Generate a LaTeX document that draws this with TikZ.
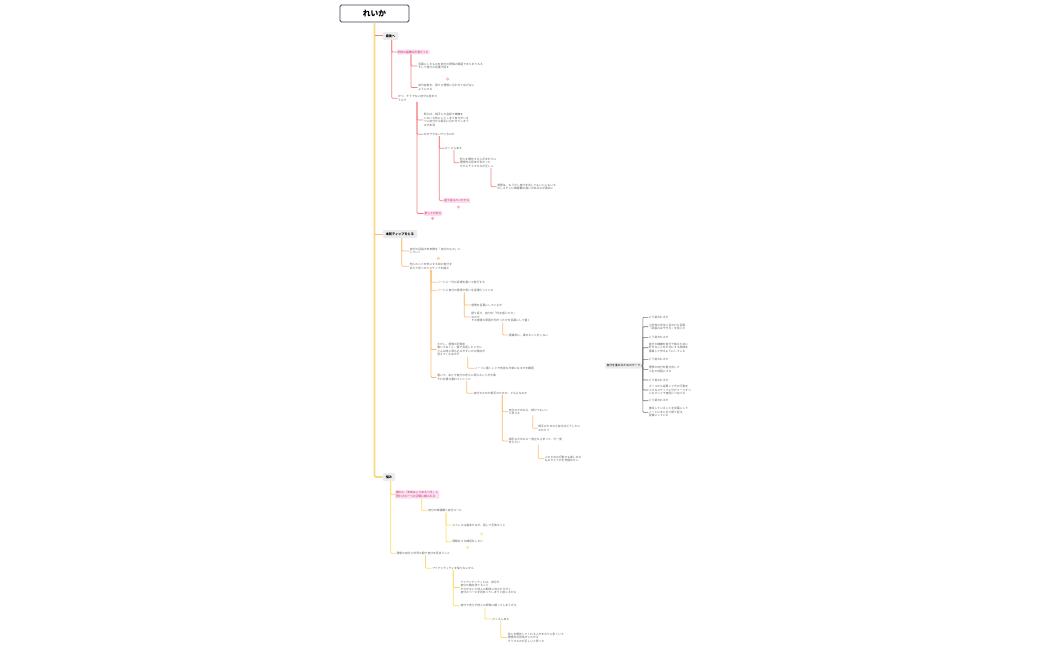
\documentclass[tikz,border=0pt]{standalone}
\usepackage{fontspec}
\setmainfont{Noto Sans CJK JP}
\definecolor{rootc}{RGB}{60,60,90}
\definecolor{topicc}{RGB}{236,236,236}
\definecolor{leafc}{RGB}{95,95,95}
\definecolor{pinkc}{RGB}{252,222,238}
\definecolor{pinktext}{RGB}{190,50,120}
\definecolor{trunkc}{RGB}{250,215,130}
\definecolor{redc}{RGB}{242,130,130}
\definecolor{orangec}{RGB}{250,190,120}
\definecolor{yellowc}{RGB}{250,220,110}
\definecolor{grayc}{RGB}{110,110,110}
\tikzset{
  rootbox/.style={draw=rootc, line width=0.8mm, rounded corners=1.5mm, minimum width=69mm, minimum height=17mm, font=\fontsize{22}{22}\selectfont\bfseries},
  topicbox/.style={anchor=west, fill=topicc, rounded corners=1mm, minimum height=8mm, inner xsep=3mm, font=\fontsize{9}{9}\selectfont\bfseries},
  leafnode/.style={anchor=west, align=left, inner sep=0.5mm, text=leafc, font=\fontsize{8}{10}\selectfont},
  pinkbox/.style={leafnode, fill=pinkc, text=pinktext, rounded corners=0.8mm, inner sep=1mm},
  noteicon/.style={circle, draw=#1, line width=0.3mm, minimum size=2.6mm, inner sep=0pt,
    path picture={\fill[#1] (path picture bounding box.center) circle (0.45mm);}},
  trunkline/.style={draw=trunkc, line width=1.8mm, rounded corners=2mm},
  redline/.style={draw=redc, line width=0.8mm, rounded corners=1mm},
  orangeline/.style={draw=orangec, line width=0.8mm, rounded corners=1mm},
  yellowline/.style={draw=yellowc, line width=0.8mm, rounded corners=1mm},
  grayline/.style={draw=grayc, line width=0.6mm, rounded corners=0.8mm}
}
\begin{document}
\begin{tikzpicture}[x=1mm,y=-1mm]
  \useasboundingbox (0,0) rectangle (1050,650);

  \node[rootbox] (root) at (374.5,13.5) {れいか};

  \node[topicbox] (t1) at (382.7,35.8) {最後へ};
  \node[topicbox] (t2) at (382.7,234) {本質ティップをとる};
  \node[topicbox] (t3) at (382.7,477) {悩み};

  \draw[trunkline] (root.south) |- (t3.west);
  \draw[redline] (root.south |- t1.west) -- (t1.west);
  \draw[orangeline] (root.south |- t2.west) -- (t2.west);

  \node[pinkbox] (t1a) at (396.5,52) {学校の基礎は大事だった};
  \node[leafnode] (t1aa) at (417.7,66) {言葉にしたものを自分の理解の範囲でまとめてみる\\そして自分の言葉で話す};
  \node[leafnode] (t1ab) at (417.7,87.5) {自分自身を、周りの理想に合わせて広げない\\ようにする};
  \node[noteicon=redc] (t1ai) at (447.7,79) {};
  \node[leafnode] (t1b) at (397.5,98.3) {かつ、そうでない自分も含めた\\うえで};
  \node[leafnode] (t1ba) at (423.3,120) {例えば、相手との会話で機嫌を\\いちいち気にしてしまう自分がいる\\つい自分から相手に合わせてしまう\\のが本音};
  \node[leafnode] (t1bb) at (423.3,134.3) {なぜできないでいるのか};
  \node[leafnode] (t1bba) at (444.5,148.3) {たくさんある};
  \node[leafnode] (t1bbaa) at (459.3,162.7) {他人を優先する人がまわりに\\理想的な見本が多かった\\だからそうするのが正しい};
  \node[leafnode] (t1bbaaa) at (496.7,186.7) {実際は、もう少し自分を出してもいい人もいる\\むしろそこに価値観の違いがあるのが面白い};
  \node[pinkbox] (t1bbb) at (443,200.7) {違う話みたいだから};
  \node[noteicon=redc] (t1bbbi) at (458.3,207) {};
  \node[pinkbox] (t1bc) at (423.5,213.5) {楽しさがある};
  \node[noteicon=redc] (t1bci) at (432.7,218.3) {};

  \foreach \c in {t1a,t1b} \draw[redline] ([xshift=9mm]t1.south west) |- (\c.west);
  \foreach \c in {t1aa,t1ab} \draw[redline] ([xshift=14.5mm]t1a.south west) |- (\c.west);
  \foreach \c in {t1ba,t1bb,t1bc} \draw[redline] ([xshift=19.5mm]t1b.south west) |- (\c.west);
  \foreach \c in {t1bba,t1bbb} \draw[redline] ([xshift=16mm]t1bb.south west) |- (\c.west);
  \draw[redline] ([xshift=9.5mm]t1bba.south west) |- (t1bbaa.west);
  \draw[redline] ([xshift=31.7mm]t1bbaa.south west) |- (t1bbaaa.west);

  \node[leafnode] (t2a) at (409.3,251) {自分の目指す未来像を「自分のもの」に\\していく};
  \node[noteicon=orangec] (t2ai) at (438.3,258.3) {};
  \node[leafnode] (t2b) at (409.3,266.3) {他人のことを気にする前の自分を\\あえて見つめてステップを踏む};
  \node[leafnode] (t2ba) at (436.7,282.3) {ノートに一日の目標を書いて実行する};
  \node[leafnode] (t2bb) at (436.7,290.7) {ノートに自分の感情や思いを言語化している};
  \node[leafnode] (t2bba) at (470.7,305) {感情を言葉にしているか};
  \node[leafnode] (t2bbb) at (470.7,317) {振り返り、自分が「何を感じたか」\\なので\\その感情の原因が何だったかを言葉にして書く};
  \node[leafnode] (t2bbba) at (508.3,335) {意識的に、責めることをしない};
  \node[leafnode] (t2bc) at (436.7,349.5) {ただし、感情の記録を\\書いておくと、後で見返したときに\\どんな時に落ち込みやすいかの傾向が\\見えてくるはずだ};
  \node[leafnode] (t2bca) at (474.3,368.3) {ノートに書くことで気持ちが楽になるかを確認};
  \node[leafnode] (t2bd) at (436.7,377.5) {書いて、あとで自分の考えに戻れることが大事\\それを積み重ねていくこと};
  \node[leafnode] (t2bda) at (473.3,393.3) {自分のためか相手のためか、どちらなのか};
  \node[leafnode] (t2bdaa) at (508.3,411.7) {自分のためなら、続けてもいい\\と思える};
  \node[leafnode] (t2bdaaa) at (537.7,428.3) {相手のためなら自分はどうしたい\\のだろう};
  \node[leafnode] (t2bdab) at (508.3,441) {相手のためなら一度立ち止まって、今一度\\考えたい};
  \node[leafnode] (t2bdaba) at (544.3,458.7) {人のための行動でも楽しめる\\ものかどうかを見極めたい};

  \foreach \c in {t2a,t2b} \draw[orangeline] ([xshift=19mm]t2.south west) |- (\c.west);
  \foreach \c in {t2ba,t2bb,t2bc,t2bd} \draw[orangeline] ([xshift=21.7mm]t2b.south west) |- (\c.west);
  \foreach \c in {t2bba,t2bbb} \draw[orangeline] ([xshift=27.6mm]t2bb.south west) |- (\c.west);
  \draw[orangeline] ([xshift=32mm]t2bbb.south west) |- (t2bbba.west);
  \draw[orangeline] ([xshift=31mm]t2bc.south west) |- (t2bca.west);
  \draw[orangeline] ([xshift=30mm]t2bd.south west) |- (t2bda.west);
  \foreach \c in {t2bdaa,t2bdab} \draw[orangeline] ([xshift=29mm]t2bda.south west) |- (\c.west);
  \draw[orangeline] ([xshift=24.4mm]t2bdaa.south west) |- (t2bdaaa.west);
  \draw[orangeline] ([xshift=30mm]t2bdab.south west) |- (t2bdaba.west);

  \node[pinkbox] (t3a) at (395,494.5) {誰かに「本来はこうあるべき」と\\思わされ一つの正解に縛られる};
  \node[leafnode] (t3aa) at (427.7,510.7) {自分の価値観と自分ルール};
  \node[leafnode] (t3aaa) at (451.7,525) {ストレスは基本ためず、話して手放すこと};
  \node[noteicon=yellowc] (t3aaai) at (481.7,534) {};
  \node[leafnode] (t3aab) at (451.7,541.7) {理解をする練習をしたい};
  \node[noteicon=yellowc] (t3aabi) at (467.7,547.3) {};
  \node[leafnode] (t3b) at (396,553.3) {理想の自分と世界の間で自分を見失うこと};
  \node[leafnode] (t3ba) at (431.7,568.3) {アイデンティティを保てないから};
  \node[leafnode] (t3baa) at (460,587.5) {アイデンティティとは、自分が\\自分の軸を持てること\\それがないと他人の期待に流されやすく\\自分のペースを見失ってしまうと感じるから};
  \node[leafnode] (t3bab) at (460,605.7) {自分で考えず他人の評価に頼ってしまうから};
  \node[leafnode] (t3baba) at (491.7,619) {たくさんある};
  \node[leafnode] (t3babaa) at (507.3,637.5) {他人を優先してくれる人がまわりに多くいて\\理想的な見本がいたから\\そうするのが正しいと思った};

  \foreach \c in {t3a,t3b} \draw[yellowline] ([xshift=8mm]t3.south west) |- (\c.west);
  \draw[yellowline] ([xshift=26.7mm]t3a.south west) |- (t3aa.west);
  \foreach \c in {t3aaa,t3aab} \draw[yellowline] ([xshift=18.3mm]t3aa.south west) |- (\c.west);
  \draw[yellowline] ([xshift=29.5mm]t3b.south west) |- (t3ba.west);
  \foreach \c in {t3baa,t3bab} \draw[yellowline] ([xshift=21.6mm]t3ba.south west) |- (\c.west);
  \draw[yellowline] ([xshift=25mm]t3bab.south west) |- (t3baba.west);
  \draw[yellowline] ([xshift=9mm]t3baba.south west) |- (t3babaa.west);

  \node[topicbox, font=\fontsize{8}{8}\selectfont, minimum height=6mm, inner xsep=1.5mm] (w0) at (605,365.7) {自分を進めるためのワーク};
  \node[leafnode] (w1) at (648.3,317.3) {どう変われるか};
  \node[leafnode] (w2) at (648.3,326.7) {小学校の先生に言われた言葉\\「頑張ればできる」を信じた};
  \node[leafnode] (w3) at (648.3,337.3) {どう変われるか};
  \node[leafnode] (w4) at (648.3,347.7) {自分の機嫌を自分で取るために\\好きなことを大切にする時間を\\意識して作るようにしている};
  \node[leafnode] (w5) at (648.3,359.3) {どう変われるか};
  \node[leafnode] (w6) at (648.3,369.3) {理想の自分を書き出して\\人生の地図にする};
  \node[leafnode] (w7) at (648.3,380) {どう変われるか};
  \node[leafnode] (w8) at (648.3,390) {ゴールから逆算して今の行動を\\小さなステップに分けて一つずつ\\こなすことで自信につなげる};
  \node[leafnode] (w9) at (648.3,400.7) {どう変われるか};
  \node[leafnode] (w10) at (648.3,412.3) {普段していることを言葉にして\\ノートにまとめて振り返る\\習慣にしている};

  \foreach \i in {1,...,10} \draw[grayline] (w0.east) -- ([xshift=1mm]w0.east) |- (w\i.west);
\end{tikzpicture}
\end{document}
